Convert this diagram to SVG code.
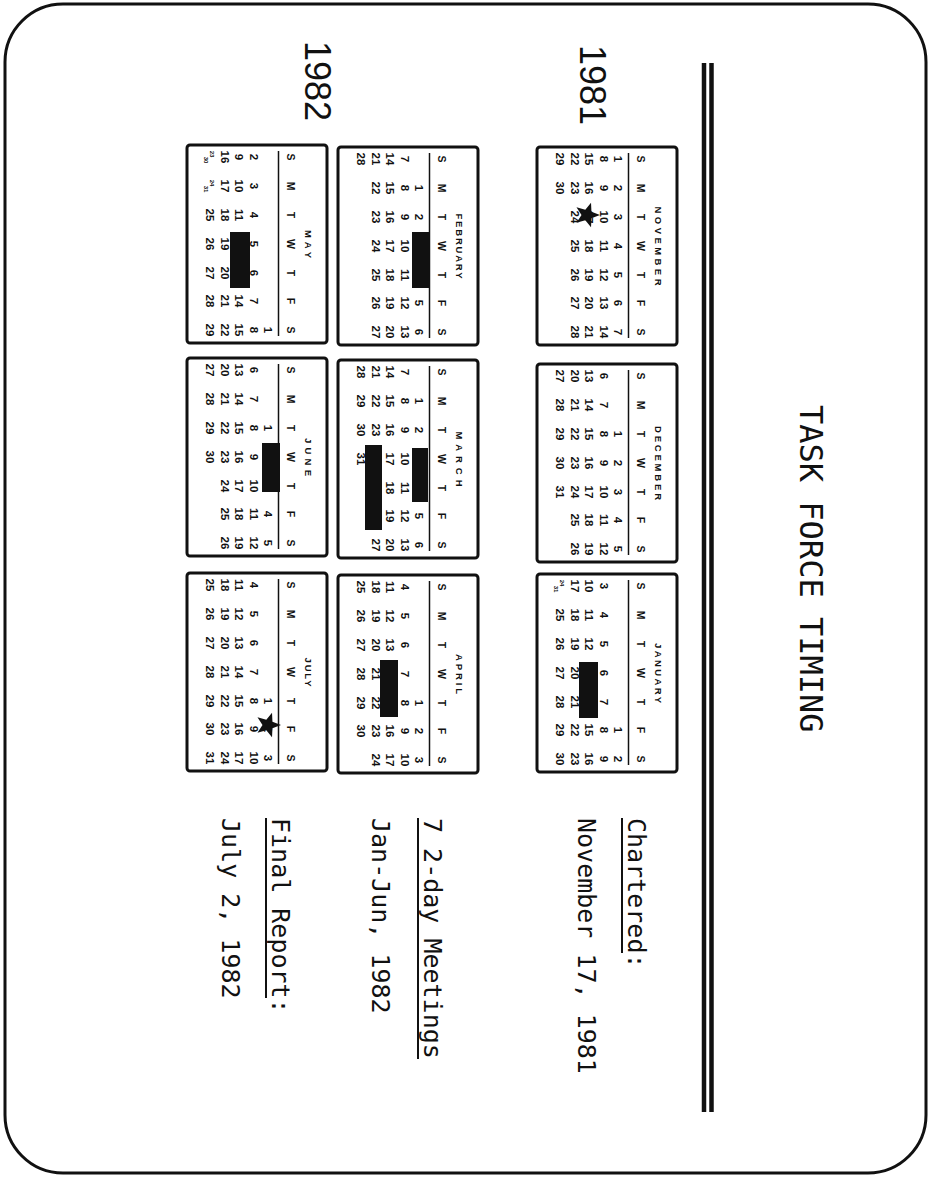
<svg xmlns="http://www.w3.org/2000/svg" xmlns:xlink="http://www.w3.org/1999/xlink" width="931" height="1179" viewBox="0 0 931 1179">
<style>
.frame{fill:#fff;stroke:#111;stroke-width:3}
.box{fill:#fff;stroke:#111;stroke-width:3}
.rule{stroke:#111;stroke-width:4.5}
.hl{stroke:#111;stroke-width:1.5}
.bar{fill:#111}
.star{fill:#111}
.title{font-family:"DejaVu Sans Mono","Liberation Mono",monospace;font-size:32px;fill:#111}
.note{font-family:"DejaVu Sans Mono","Liberation Mono",monospace;font-size:25px;fill:#111}
.ul{stroke:#111;stroke-width:2}
.year{font-family:"Liberation Sans",Arial,sans-serif;font-size:36px;fill:#111}
.mn{font-family:"Liberation Sans",Arial,sans-serif;font-weight:bold;font-size:9.5px;fill:#111;text-anchor:middle}
.hd{font-family:"Liberation Sans",Arial,sans-serif;font-weight:bold;font-size:10.5px;fill:#111;text-anchor:middle}
.d{font-family:"Liberation Sans",Arial,sans-serif;font-weight:bold;font-size:11.5px;fill:#111;text-anchor:middle}
.fr{font-family:"Liberation Sans",Arial,sans-serif;font-weight:bold;font-size:6px;fill:#111;text-anchor:middle}
</style>
<defs>
<g id="hdr">
<rect class="box" x="0" y="0" width="198" height="140" rx="3"/>
<text class="hd" y="40"><tspan x="12">S</tspan><tspan x="41">M</tspan><tspan x="70">T</tspan><tspan x="99">W</tspan><tspan x="128">T</tspan><tspan x="156">F</tspan><tspan x="185">S</tspan></text>
<line class="hl" x1="6" y1="48.5" x2="191" y2="48.5"/>
</g>
<polygon id="star" class="star" points="0,-13 3.23,-4.45 12.36,-4.02 5.23,1.7 7.64,10.52 0,5.5 -7.64,10.52 -5.23,1.7 -12.36,-4.02 -3.23,-4.45"/>
</defs>
<rect width="931" height="1179" fill="#fff"/>
<g transform="translate(931,0) rotate(90)">
<rect class="frame" x="4" y="5" width="1169" height="921" rx="58"/>

<g id="title"><text class="title" x="405" y="131">TASK FORCE TIMING</text></g>

<g id="rules">
<line class="rule" x1="63" y1="219.5" x2="1112" y2="219.5"/>
<line class="rule" x1="63" y1="227" x2="1112" y2="227"/>
</g>

<g id="year-1981"><text class="year" x="45" y="351">1981</text></g>
<g id="year-1982"><text class="year" x="41" y="626">1982</text></g>

<g id="cal-nov" transform="translate(147,254)">
<use xlink:href="#hdr"/>
<text class="mn" x="99" y="22" textLength="79" lengthAdjust="spacing">NOVEMBER</text>
<text class="d" y="63"><tspan x="12">1</tspan><tspan x="41">2</tspan><tspan x="70">3</tspan><tspan x="99">4</tspan><tspan x="128">5</tspan><tspan x="156">6</tspan><tspan x="185">7</tspan></text>
<text class="d" y="77.5"><tspan x="12">8</tspan><tspan x="41">9</tspan><tspan x="70">10</tspan><tspan x="99">11</tspan><tspan x="128">12</tspan><tspan x="156">13</tspan><tspan x="185">14</tspan></text>
<text class="d" y="92"><tspan x="12">15</tspan><tspan x="41">16</tspan><tspan x="70">17</tspan><tspan x="99">18</tspan><tspan x="128">19</tspan><tspan x="156">20</tspan><tspan x="185">21</tspan></text>
<text class="d" y="106.5"><tspan x="12">22</tspan><tspan x="41">23</tspan><tspan x="70">24</tspan><tspan x="99">25</tspan><tspan x="128">26</tspan><tspan x="156">27</tspan><tspan x="185">28</tspan></text>
<text class="d" y="121"><tspan x="12">29</tspan><tspan x="41">30</tspan></text>
<use xlink:href="#star" x="68" y="90"/>
</g>

<g id="cal-dec" transform="translate(364,254)">
<use xlink:href="#hdr"/>
<text class="mn" x="99" y="22" textLength="74" lengthAdjust="spacing">DECEMBER</text>
<text class="d" y="63"><tspan x="70">1</tspan><tspan x="99">2</tspan><tspan x="128">3</tspan><tspan x="156">4</tspan><tspan x="185">5</tspan></text>
<text class="d" y="77.5"><tspan x="12">6</tspan><tspan x="41">7</tspan><tspan x="70">8</tspan><tspan x="99">9</tspan><tspan x="128">10</tspan><tspan x="156">11</tspan><tspan x="185">12</tspan></text>
<text class="d" y="92"><tspan x="12">13</tspan><tspan x="41">14</tspan><tspan x="70">15</tspan><tspan x="99">16</tspan><tspan x="128">17</tspan><tspan x="156">18</tspan><tspan x="185">19</tspan></text>
<text class="d" y="106.5"><tspan x="12">20</tspan><tspan x="41">21</tspan><tspan x="70">22</tspan><tspan x="99">23</tspan><tspan x="128">24</tspan><tspan x="156">25</tspan><tspan x="185">26</tspan></text>
<text class="d" y="121"><tspan x="12">27</tspan><tspan x="41">28</tspan><tspan x="70">29</tspan><tspan x="99">30</tspan><tspan x="128">31</tspan></text>
</g>

<g id="cal-jan" transform="translate(574,254)">
<use xlink:href="#hdr"/>
<text class="mn" x="99" y="22" textLength="60" lengthAdjust="spacing">JANUARY</text>
<text class="d" y="63"><tspan x="156">1</tspan><tspan x="185">2</tspan></text>
<text class="d" y="77.5"><tspan x="12">3</tspan><tspan x="41">4</tspan><tspan x="70">5</tspan><tspan x="99">6</tspan><tspan x="128">7</tspan><tspan x="156">8</tspan><tspan x="185">9</tspan></text>
<text class="d" y="92"><tspan x="12">10</tspan><tspan x="41">11</tspan><tspan x="70">12</tspan><tspan x="99">13</tspan><tspan x="128">14</tspan><tspan x="156">15</tspan><tspan x="185">16</tspan></text>
<text class="d" y="106.5"><tspan x="12">17</tspan><tspan x="41">18</tspan><tspan x="70">19</tspan><tspan x="99">20</tspan><tspan x="128">21</tspan><tspan x="156">22</tspan><tspan x="185">23</tspan></text>
<text class="fr" x="9" y="117">24</text><text class="fr" x="15" y="123">31</text>
<text class="d" y="121"><tspan x="41">25</tspan><tspan x="70">26</tspan><tspan x="99">27</tspan><tspan x="128">28</tspan><tspan x="156">29</tspan><tspan x="185">30</tspan></text>
<rect class="bar" x="88" y="79" width="56" height="19"/>
</g>

<g id="cal-feb" transform="translate(147,453)">
<use xlink:href="#hdr"/>
<text class="mn" x="99" y="22" textLength="65" lengthAdjust="spacing">FEBRUARY</text>
<text class="d" y="63"><tspan x="41">1</tspan><tspan x="70">2</tspan><tspan x="99">3</tspan><tspan x="128">4</tspan><tspan x="156">5</tspan><tspan x="185">6</tspan></text>
<text class="d" y="77.5"><tspan x="12">7</tspan><tspan x="41">8</tspan><tspan x="70">9</tspan><tspan x="99">10</tspan><tspan x="128">11</tspan><tspan x="156">12</tspan><tspan x="185">13</tspan></text>
<text class="d" y="92"><tspan x="12">14</tspan><tspan x="41">15</tspan><tspan x="70">16</tspan><tspan x="99">17</tspan><tspan x="128">18</tspan><tspan x="156">19</tspan><tspan x="185">20</tspan></text>
<text class="d" y="106.5"><tspan x="12">21</tspan><tspan x="41">22</tspan><tspan x="70">23</tspan><tspan x="99">24</tspan><tspan x="128">25</tspan><tspan x="156">26</tspan><tspan x="185">27</tspan></text>
<text class="d" y="121"><tspan x="12">28</tspan></text>
<rect class="bar" x="85" y="48" width="56" height="18"/>
</g>

<g id="cal-mar" transform="translate(360,453)">
<use xlink:href="#hdr"/>
<text class="mn" x="99" y="22" textLength="55" lengthAdjust="spacing">MARCH</text>
<text class="d" y="63"><tspan x="41">1</tspan><tspan x="70">2</tspan><tspan x="99">3</tspan><tspan x="128">4</tspan><tspan x="156">5</tspan><tspan x="185">6</tspan></text>
<text class="d" y="77.5"><tspan x="12">7</tspan><tspan x="41">8</tspan><tspan x="70">9</tspan><tspan x="99">10</tspan><tspan x="128">11</tspan><tspan x="156">12</tspan><tspan x="185">13</tspan></text>
<text class="d" y="92"><tspan x="12">14</tspan><tspan x="41">15</tspan><tspan x="70">16</tspan><tspan x="99">17</tspan><tspan x="128">18</tspan><tspan x="156">19</tspan><tspan x="185">20</tspan></text>
<text class="d" y="106.5"><tspan x="12">21</tspan><tspan x="41">22</tspan><tspan x="70">23</tspan><tspan x="99">24</tspan><tspan x="128">25</tspan><tspan x="156">26</tspan><tspan x="185">27</tspan></text>
<text class="d" y="121"><tspan x="12">28</tspan><tspan x="41">29</tspan><tspan x="70">30</tspan><tspan x="99">31</tspan></text>
<rect class="bar" x="88" y="50" width="54" height="16"/>
<rect class="bar" x="85" y="96" width="85" height="17"/>
</g>

<g id="cal-apr" transform="translate(575,453)">
<use xlink:href="#hdr"/>
<text class="mn" x="99" y="22" textLength="40" lengthAdjust="spacing">APRIL</text>
<text class="d" y="63"><tspan x="128">1</tspan><tspan x="156">2</tspan><tspan x="185">3</tspan></text>
<text class="d" y="77.5"><tspan x="12">4</tspan><tspan x="41">5</tspan><tspan x="70">6</tspan><tspan x="99">7</tspan><tspan x="128">8</tspan><tspan x="156">9</tspan><tspan x="185">10</tspan></text>
<text class="d" y="92"><tspan x="12">11</tspan><tspan x="41">12</tspan><tspan x="70">13</tspan><tspan x="99">14</tspan><tspan x="128">15</tspan><tspan x="156">16</tspan><tspan x="185">17</tspan></text>
<text class="d" y="106.5"><tspan x="12">18</tspan><tspan x="41">19</tspan><tspan x="70">20</tspan><tspan x="99">21</tspan><tspan x="128">22</tspan><tspan x="156">23</tspan><tspan x="185">24</tspan></text>
<text class="d" y="121"><tspan x="12">25</tspan><tspan x="41">26</tspan><tspan x="70">27</tspan><tspan x="99">28</tspan><tspan x="128">29</tspan><tspan x="156">30</tspan></text>
<rect class="bar" x="85" y="80" width="57" height="18"/>
</g>

<g id="cal-may" transform="translate(145,604)">
<use xlink:href="#hdr"/>
<text class="mn" x="99" y="22" textLength="28" lengthAdjust="spacing">MAY</text>
<text class="d" y="63"><tspan x="185">1</tspan></text>
<text class="d" y="77.5"><tspan x="12">2</tspan><tspan x="41">3</tspan><tspan x="70">4</tspan><tspan x="99">5</tspan><tspan x="128">6</tspan><tspan x="156">7</tspan><tspan x="185">8</tspan></text>
<text class="d" y="92"><tspan x="12">9</tspan><tspan x="41">10</tspan><tspan x="70">11</tspan><tspan x="99">12</tspan><tspan x="128">13</tspan><tspan x="156">14</tspan><tspan x="185">15</tspan></text>
<text class="d" y="106.5"><tspan x="12">16</tspan><tspan x="41">17</tspan><tspan x="70">18</tspan><tspan x="99">19</tspan><tspan x="128">20</tspan><tspan x="156">21</tspan><tspan x="185">22</tspan></text>
<text class="fr" x="9" y="117">23</text><text class="fr" x="15" y="123">30</text>
<text class="fr" x="38" y="117">24</text><text class="fr" x="44" y="123">31</text>
<text class="d" y="121"><tspan x="70">25</tspan><tspan x="99">26</tspan><tspan x="128">27</tspan><tspan x="156">28</tspan><tspan x="185">29</tspan></text>
<rect class="bar" x="87" y="77" width="56" height="20"/>
</g>

<g id="cal-jun" transform="translate(358,604)">
<use xlink:href="#hdr"/>
<text class="mn" x="99" y="22" textLength="38" lengthAdjust="spacing">JUNE</text>
<text class="d" y="63"><tspan x="70">1</tspan><tspan x="99">2</tspan><tspan x="128">3</tspan><tspan x="156">4</tspan><tspan x="185">5</tspan></text>
<text class="d" y="77.5"><tspan x="12">6</tspan><tspan x="41">7</tspan><tspan x="70">8</tspan><tspan x="99">9</tspan><tspan x="128">10</tspan><tspan x="156">11</tspan><tspan x="185">12</tspan></text>
<text class="d" y="92"><tspan x="12">13</tspan><tspan x="41">14</tspan><tspan x="70">15</tspan><tspan x="99">16</tspan><tspan x="128">17</tspan><tspan x="156">18</tspan><tspan x="185">19</tspan></text>
<text class="d" y="106.5"><tspan x="12">20</tspan><tspan x="41">21</tspan><tspan x="70">22</tspan><tspan x="99">23</tspan><tspan x="128">24</tspan><tspan x="156">25</tspan><tspan x="185">26</tspan></text>
<text class="d" y="121"><tspan x="12">27</tspan><tspan x="41">28</tspan><tspan x="70">29</tspan><tspan x="99">30</tspan></text>
<rect class="bar" x="85" y="47" width="49" height="18"/>
</g>

<g id="cal-jul" transform="translate(573,604)">
<use xlink:href="#hdr"/>
<text class="mn" x="99" y="22" textLength="29" lengthAdjust="spacing">JULY</text>
<text class="d" y="63"><tspan x="128">1</tspan><tspan x="156">2</tspan><tspan x="185">3</tspan></text>
<text class="d" y="77.5"><tspan x="12">4</tspan><tspan x="41">5</tspan><tspan x="70">6</tspan><tspan x="99">7</tspan><tspan x="128">8</tspan><tspan x="156">9</tspan><tspan x="185">10</tspan></text>
<text class="d" y="92"><tspan x="12">11</tspan><tspan x="41">12</tspan><tspan x="70">13</tspan><tspan x="99">14</tspan><tspan x="128">15</tspan><tspan x="156">16</tspan><tspan x="185">17</tspan></text>
<text class="d" y="106.5"><tspan x="12">18</tspan><tspan x="41">19</tspan><tspan x="70">20</tspan><tspan x="99">21</tspan><tspan x="128">22</tspan><tspan x="156">23</tspan><tspan x="185">24</tspan></text>
<text class="d" y="121"><tspan x="12">25</tspan><tspan x="41">26</tspan><tspan x="70">27</tspan><tspan x="99">28</tspan><tspan x="128">29</tspan><tspan x="156">30</tspan><tspan x="185">31</tspan></text>
<use xlink:href="#star" x="152" y="59"/>
</g>

<g id="note-chartered">
<text class="note" x="818" y="303">Chartered:</text>
<line class="ul" x1="818" y1="309" x2="953" y2="309"/>
<text class="note" x="818" y="353">November 17, 1981</text>
</g>
<g id="note-meetings">
<text class="note" x="818" y="507">7 2-day Meetings</text>
<line class="ul" x1="818" y1="513" x2="1059" y2="513"/>
<text class="note" x="818" y="559">Jan-Jun, 1982</text>
</g>
<g id="note-report">
<text class="note" x="818" y="659">Final Report:</text>
<line class="ul" x1="818" y1="665" x2="998" y2="665"/>
<text class="note" x="818" y="709">July 2, 1982</text>
</g>
</g>
</svg>
